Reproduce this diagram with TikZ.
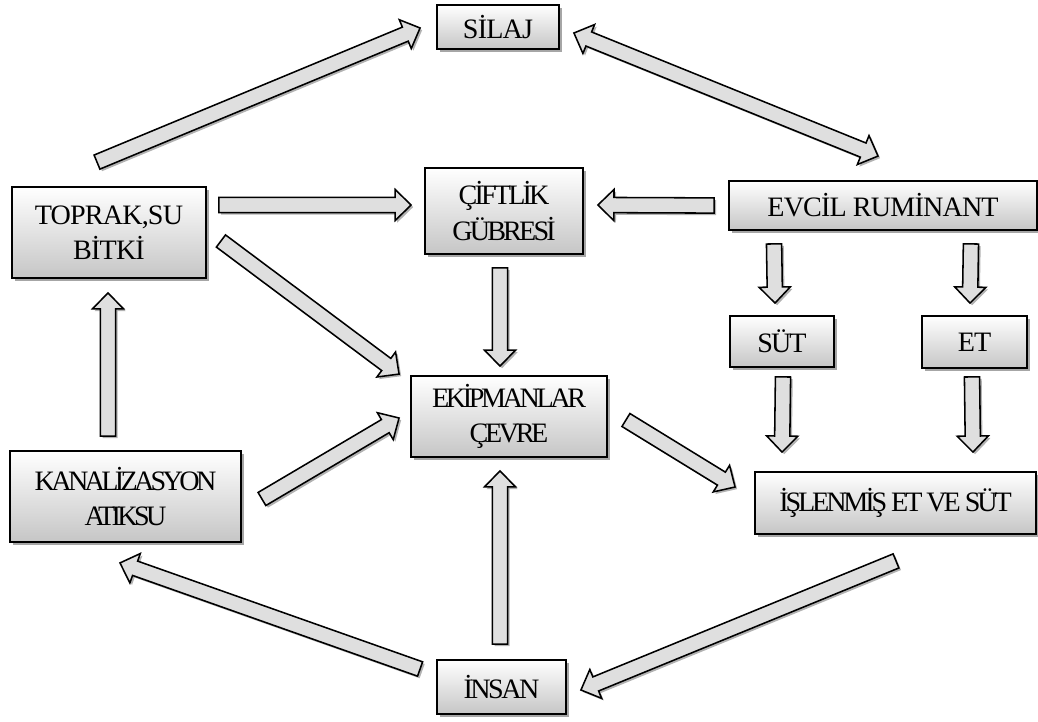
\documentclass[tikz,border=0pt]{standalone}
\usepackage{fontspec}
\setmainfont{Liberation Serif}[LetterSpace=-3]
\usetikzlibrary{calc}
\usetikzlibrary{shadows}
\tikzset{
    mybox/.style = {rectangle, draw=black, line width=1.3pt, inner sep=0pt, align=center,
        top color=white, bottom color=gray!45,
        drop shadow={shadow xshift=2pt, shadow yshift=-2pt, opacity=0.35, fill=black},
        font=\fontsize{20}{25}\selectfont},
    tight/.style = {font=\fontsize{20}{25}\selectfont\addfontfeature{LetterSpace=#1}},
    myarrow/.style = {draw=black, line width=1.1pt, line join=miter, fill=gray!25,
        drop shadow={shadow xshift=1.5pt, shadow yshift=-1.5pt, opacity=0.3, fill=black}}
}
% block arrow from #1 to #2
\newcommand{\blockarr}[2]{%
  \coordinate (hd) at ($(#2)!0.4cm!(#1)$);
  \path[myarrow] ($(#1)!0.19cm!90:(#2)$) -- ($(hd)!0.19cm!90:(#2)$) -- ($(hd)!0.39cm!90:(#2)$)
    -- (#2) -- ($(hd)!0.39cm!-90:(#2)$) -- ($(hd)!0.19cm!-90:(#2)$) -- ($(#1)!0.19cm!-90:(#2)$) -- cycle;}
% block arrow with two heads
\newcommand{\dblockarr}[2]{%
  \coordinate (hd) at ($(#2)!0.4cm!(#1)$);
  \coordinate (hs) at ($(#1)!0.4cm!(#2)$);
  \path[myarrow] (#1) -- ($(hs)!0.39cm!90:(#2)$) -- ($(hs)!0.19cm!90:(#2)$) -- ($(hd)!0.19cm!90:(#2)$)
    -- ($(hd)!0.39cm!90:(#2)$) -- (#2) -- ($(hd)!0.39cm!-90:(#2)$) -- ($(hd)!0.19cm!-90:(#2)$)
    -- ($(hs)!0.19cm!-90:(#2)$) -- ($(hs)!0.39cm!-90:(#2)$) -- cycle;}

\begin{document}
\begin{tikzpicture}[x=0.025cm, y=-0.025cm]
  \useasboundingbox (0,0) rectangle (1038,722);

  \node[mybox, minimum width=3.05cm, minimum height=1.1cm] at (498,27) (silaj) {SİLAJ};
  \node[mybox, minimum width=4.85cm, minimum height=2.275cm] at (109,232.5) (toprak) {TOPRAK,SU\\BİTKİ};
  \node[mybox, tight=-10, minimum width=3.95cm, minimum height=2.15cm] at (504,211) (ciftlik) {ÇİFTLİK\\GÜBRESİ};
  \node[mybox, minimum width=7.7cm, minimum height=1.225cm] at (883,205.5) (evcil) {EVCİL RUMİNANT};
  \node[mybox, tight=-7, minimum width=2.6cm, minimum height=1.275cm] at (782,341.5) (sut) {SÜT};
  \node[mybox, minimum width=2.625cm, minimum height=1.3cm] at (974.5,342) (et) {ET};
  \node[mybox, tight=-12, minimum width=4.9cm, minimum height=2.025cm] at (509,416.5) (ekip) {EKİPMANLAR\\ÇEVRE};
  \node[mybox, tight=-13, minimum width=5.775cm, minimum height=2.275cm] at (125.5,496.5) (kanal) {KANALİZASYON\\ATIKSU};
  \node[mybox, tight=-11, minimum width=7.025cm, minimum height=1.55cm] at (895.5,503) (islenmis) {İŞLENMİŞ ET VE SÜT};
  \node[mybox, tight=-9, minimum width=3.225cm, minimum height=1.35cm] at (501.5,687) (insan) {İNSAN};

  % arrow ends
  \coordinate (ts1) at ($(toprak.north)+(-12,-24)$);
  \coordinate (ts2) at ($(silaj.west)+(-16,1)$);
  \coordinate (se1) at ($(silaj.east)+(14,6)$);
  \coordinate (se2) at ($(evcil.north)+(-5,-24)$);
  \coordinate (tc1) at ($(toprak.east)+(12,-27.5)$);
  \coordinate (tc2) at ($(ciftlik.west)+(-13,-6)$);
  \coordinate (ec1) at ($(evcil.west)+(-14,0)$);
  \coordinate (ec2) at ($(ciftlik.east)+(14,-6)$);
  \coordinate (te1) at ($(toprak.east)+(14,8.5)$);
  \coordinate (te2) at ($(ekip.north west)+(-11,-1)$);
  \coordinate (ce1) at ($(ciftlik.south)+(-4,13)$);
  \coordinate (ce2) at ($(ekip.north)+(-9,-9)$);
  \coordinate (es1) at ($(evcil.south west)+(46,13)$);
  \coordinate (es2) at ($(sut.north)+(-7,-12)$);
  \coordinate (ee1) at ($(evcil.south east)+(-67,13)$);
  \coordinate (ee2) at ($(et.north)+(-4.5,-12)$);
  \coordinate (si1) at ($(sut.south)+(1,9)$);
  \coordinate (si2) at ($(islenmis.north west)+(28,-19)$);
  \coordinate (ei1) at ($(et.south)+(-2.5,8)$);
  \coordinate (ei2) at ($(islenmis.north east)+(-64,-19)$);
  \coordinate (ki1) at ($(ekip.east)+(18,3.5)$);
  \coordinate (ki2) at ($(islenmis.west)+(-19,-16)$);
  \coordinate (ke1) at ($(kanal.east)+(20,2.5)$);
  \coordinate (ke2) at ($(ekip.west)+(-11,1.5)$);
  \coordinate (kt1) at ($(kanal.north)+(-17.5,-14)$);
  \coordinate (kt2) at ($(toprak.south)+(-1,14)$);
  \coordinate (ie1) at ($(insan.north)+(-1.5,-15)$);
  \coordinate (ie2) at ($(ekip.south)+(-9,13)$);
  \coordinate (ik1) at ($(insan.west)+(-16,-18)$);
  \coordinate (ik2) at ($(kanal.south)+(-5.5,20)$);
  \coordinate (li1) at ($(islenmis.south)+(0.5,26)$);
  \coordinate (li2) at ($(insan.east)+(14,3)$);

  \blockarr{ts1}{ts2}
  \dblockarr{se1}{se2}
  \blockarr{tc1}{tc2}
  \blockarr{ec1}{ec2}
  \blockarr{te1}{te2}
  \blockarr{ce1}{ce2}
  \blockarr{es1}{es2}
  \blockarr{ee1}{ee2}
  \blockarr{si1}{si2}
  \blockarr{ei1}{ei2}
  \blockarr{ki1}{ki2}
  \blockarr{ke1}{ke2}
  \blockarr{kt1}{kt2}
  \blockarr{ie1}{ie2}
  \blockarr{ik1}{ik2}
  \blockarr{li1}{li2}

\end{tikzpicture}
\end{document}
